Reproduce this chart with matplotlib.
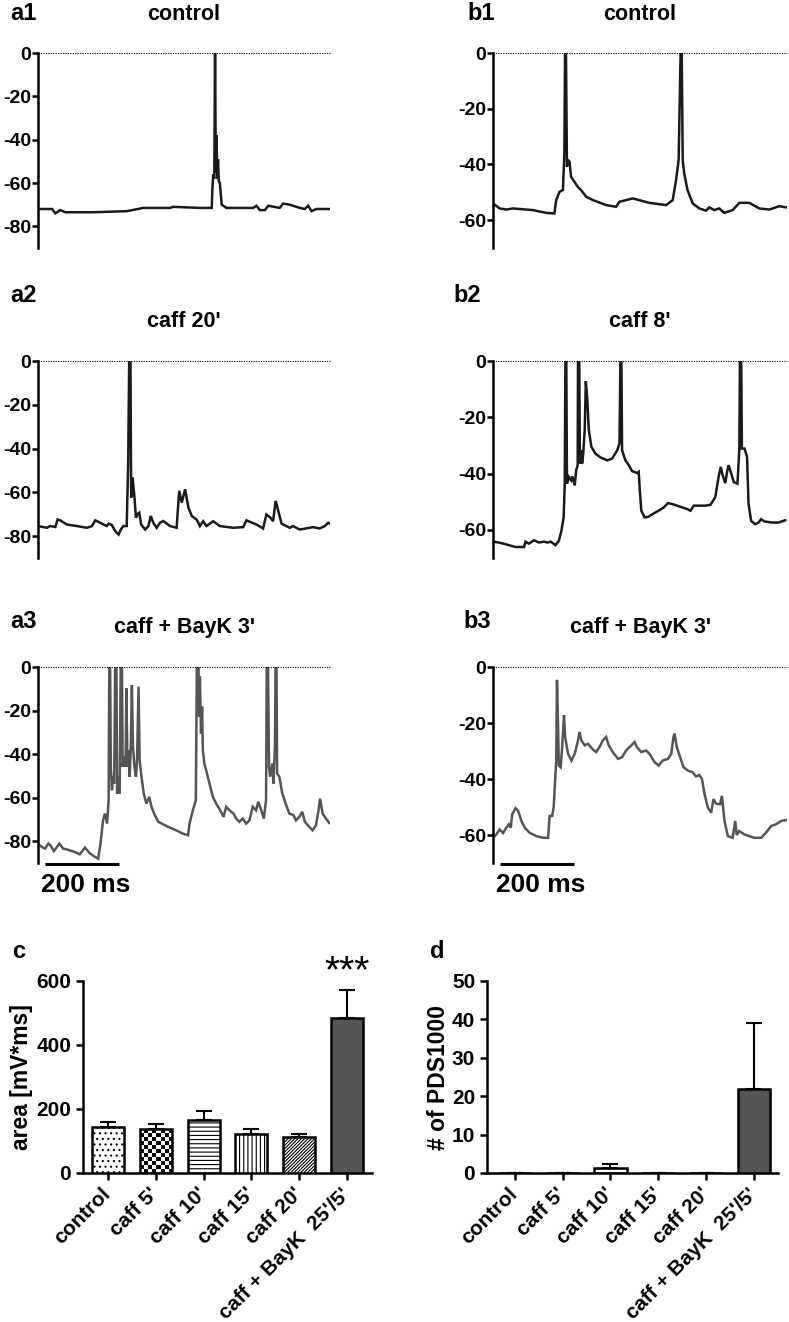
import matplotlib.pyplot as plt
import numpy as np

plt.rcParams['font.family'] = ['Liberation Sans', 'DejaVu Sans']
plt.rcParams['font.weight'] = 'bold'
plt.rcParams['axes.labelweight'] = 'bold'
plt.rcParams['axes.unicode_minus'] = False
plt.rcParams['hatch.linewidth'] = 0.8

# ---- membrane potential traces (time in ms, potential in mV) ----
a1_t = [0, 38, 47, 60, 74, 150, 240, 285, 357, 366, 438, 470, 472, 474, 477, 479, 481, 483, 485, 487,
        489, 492, 497, 510, 582, 591, 600, 614, 623, 654, 663, 681, 708, 722, 731, 740, 753, 789]
a1_v = [-72, -72, -74, -72.5, -73.5, -73.5, -73, -71.5, -71.5, -71, -71.5, -71.5, -62, -56, -58, 5,
        -55, -38, -58, -49, -59, -60, -70, -71.5, -71.5, -70.5, -72.5, -72.5, -70.5, -71.5, -69.5,
        -70, -71.5, -72, -70.5, -73, -72, -72]

a2_t = [0, 24, 33, 47, 53, 60, 78, 105, 132, 146, 155, 168, 186, 191, 200, 209, 218, 224, 231, 240,
        244, 247, 250, 252, 256, 261, 265, 270, 274, 279, 290, 299, 305, 312, 321, 330, 339, 357,
        375, 382, 389, 398, 407, 416, 429, 438, 447, 456, 474, 492, 528, 555, 564, 591, 609, 618,
        629, 636, 643, 650, 659, 681, 690, 708, 744, 762, 776, 785, 791]
a2_v = [-75.4, -76.2, -75.4, -75.8, -72.4, -72.8, -74.7, -75.4, -76.2, -75.4, -72.8, -73.9, -75.4,
        -74.3, -75, -77.7, -79.3, -77, -75.4, -75.4, -46.3, 5, 5, -62.4, -53.2, -62.4, -71.6, -69.8,
        -69.3, -74.7, -77, -75.4, -70.8, -73.9, -76.2, -73.9, -73.1, -75.4, -76.2, -59.3, -64.7,
        -58.6, -67, -70.8, -72.4, -75.4, -73.2, -75.4, -73.2, -75.4, -76.2, -75.9, -72.8, -74.7,
        -76.5, -70.1, -71.6, -73.2, -63.9, -68.5, -74.3, -76.2, -75.4, -77, -75.9, -76.5, -75.4,
        -73.9, -74.4]

a3_t = [0, 10, 19, 28, 34, 43, 58, 68, 79, 91, 100, 113, 127, 139, 154, 163, 169, 176, 181, 187,
        191, 193, 195, 197, 200, 203, 206, 209, 212, 214, 218, 221, 224, 227, 229, 233, 237, 239,
        242, 245, 248, 251, 254, 257, 261, 265, 268, 272, 275, 280, 286, 293, 301, 307, 316, 325,
        338, 356, 374, 392, 406, 410, 419, 427, 430, 434, 436, 438, 441, 444, 446, 450, 455, 464,
        473, 482, 493, 502, 509, 518, 529, 536, 545, 554, 563, 572, 581, 590, 596, 604, 611, 617,
        619, 622, 625, 628, 634, 637, 641, 643, 645, 647, 653, 661, 670, 680, 691, 698, 707, 715,
        722, 734, 743, 752, 759, 763, 770, 779, 788]
a3_v = [-81.1, -82.6, -83.4, -81.1, -82, -84.5, -81.1, -83.4, -83.8, -84.5, -85, -86, -82.9, -85.4,
        -87.2, -88, -81.1, -70.4, -67.3, -71.9, -61.2, 5, 5, -45.8, -56.6, -50.4, -53.5, 5, 5,
        -58.1, -50.4, -58.1, 5, 5, -45.8, -41.2, -45.8, -9.8, -45.8, -38.2, -50.4, -36.6, -8.3,
        -36.6, -45.8, -50.4, -42.8, -9, -42.8, -50.4, -58.1, -62.7, -59.6, -64.2, -68, -71, -72.2,
        -73.7, -75, -76.5, -77.3, -71.9, -65.8, -61.2, 5, 5, -22.8, -4.4, -30.5, -18.2, -38.2,
        -44.3, -47.4, -53.5, -59.6, -62.7, -65.8, -68.8, -64.2, -65.8, -67.3, -69.6, -71.1, -69.6,
        -71.9, -70.4, -64.2, -65.8, -61.9, -65.8, -69.6, -61.2, 5, 5, -45.8, -50.4, -44.3, -53.5,
        -36.6, 5, 5, -48.9, -50.4, -58.1, -62.7, -67.3, -68, -70.4, -68.8, -66.5, -71.1, -73.4,
        -75, -72.7, -65.8, -60.4, -67.3, -69.6, -71.6]

b1_t = [0, 18, 36, 54, 108, 144, 166, 171, 180, 189, 193, 195, 197, 200, 202, 207, 211, 220, 229,
        238, 252, 270, 306, 333, 342, 360, 378, 423, 468, 486, 495, 502, 508, 510, 513, 517, 526,
        540, 558, 576, 585, 598, 612, 625, 648, 666, 693, 720, 747, 774, 792]
b1_v = [-54, -55.8, -56.2, -55.8, -56.4, -57.4, -57.6, -52.8, -49.8, -49.2, -36, 5, 5, -40.8,
        -38.4, -39, -44.4, -46.2, -48, -49.2, -51.6, -52.8, -54.6, -55.2, -53.4, -52.8, -52.2,
        -53.8, -54.6, -52.8, -45.6, -38.4, 5, 5, -38.4, -43.2, -49.2, -54, -55.8, -56.6, -55.4,
        -56.4, -55.8, -57.4, -56.4, -53.8, -53.8, -55.8, -56.2, -55, -55.4]

b2_t = [0, 16, 34, 61, 84, 88, 97, 111, 124, 138, 147, 156, 169, 178, 185, 191, 194, 196, 198, 200,
        205, 211, 214, 221, 225, 229, 230, 233, 235, 239, 241, 244, 248, 251, 255, 259, 266, 277,
        291, 309, 322, 336, 342, 345, 347, 349, 358, 367, 376, 390, 394, 397, 401, 410, 421, 435,
        448, 462, 473, 484, 498, 511, 525, 534, 543, 556, 574, 588, 601, 610, 616, 621, 628, 633,
        637, 643, 651, 661, 666, 668, 671, 673, 680, 687, 691, 698, 709, 718, 725, 734, 754, 772, 790]
b2_v = [-64.2, -64.5, -65.1, -66.1, -66.1, -64.2, -64.9, -63.7, -64.5, -64.2, -64.5, -64.2, -65.4,
        -63.9, -60.3, -55.6, -43.6, 5, 5, -43.6, -41.2, -42.4, -41, -44.2, -38.8, -37, 5, 5, -36.4,
        -31.7, -36.4, -32.9, -24.5, -7.2, -13.7, -24.5, -30.5, -32.9, -34.3, -35.3, -34.7, -31.7,
        -29.3, 5, 5, -31.7, -35.3, -37, -39.1, -39.8, -39.4, -46, -53.2, -55.6, -55.3, -54.1, -53.2,
        -52, -50.5, -50.8, -51.4, -52, -52.6, -53.2, -51.4, -51.4, -51.4, -51.1, -48.4, -41.2,
        -37.6, -40.6, -43.4, -39.4, -37, -39.4, -43, -43.6, -31.7, 5, 5, -31.1, -31.1, -34.1,
        -50.8, -56.8, -58, -57.4, -56.2, -57, -57.4, -57.4, -56.6]

b3_t = [0, 9, 18, 27, 36, 43, 48, 52, 61, 68, 77, 86, 99, 117, 135, 149, 153, 160, 164, 167, 171,
        173, 176, 178, 183, 187, 192, 195, 203, 212, 221, 230, 234, 239, 248, 257, 268, 279, 288,
        297, 306, 313, 324, 338, 349, 360, 374, 383, 389, 401, 414, 423, 437, 448, 459, 473, 482,
        488, 491, 497, 506, 515, 527, 540, 549, 558, 565, 572, 581, 590, 596, 603, 614, 619, 626,
        635, 648, 655, 659, 666, 680, 693, 707, 725, 738, 752, 765, 779, 792]
b3_v = [-61, -59.8, -58, -59.3, -57.4, -56.2, -57.4, -52.6, -50.4, -51.4, -55, -57.4, -59.2, -60.4,
        -61, -61, -53.2, -53.2, -50.2, -43, -33.4, -4.6, -21.4, -35.2, -35.8, -28.6, -17.2, -25,
        -31, -33.4, -31, -26.2, -23.2, -26.2, -28, -27.4, -29.2, -30.4, -28.6, -26.2, -25, -28,
        -30.4, -32.8, -32.2, -29.8, -28, -26.8, -28.6, -30.4, -29.8, -31, -34, -35.2, -33.4, -32.8,
        -31, -25, -23.8, -28.6, -32.2, -35.8, -37, -37.6, -39.1, -38.6, -40, -45.4, -50.2, -52,
        -47.2, -48.8, -49, -46, -55, -60.4, -61, -55, -60, -58.6, -59.8, -60.4, -61, -61, -59.2,
        -56.8, -56.2, -55, -54.7]

# ---- summary bars ----
groups = ["control", "caff 5'", "caff 10'", "caff 15'", "caff 20'", "caff + BayK  25'/5'"]
area_mean = [143, 136, 166, 121, 112, 485]
area_sem = [15, 16, 28, 15, 11, 87]
pds_mean = [0, 0, 1.2, 0, 0, 22]
pds_sem = [0, 0, 1.1, 0, 0, 17]

W, H = 789, 1322
fig = plt.figure(figsize=(W / 100, H / 100), dpi=100)


def box(x0, y0, x1, y1):
    return [x0 / W, 1 - y1 / H, (x1 - x0) / W, (y1 - y0) / H]


def ftext(x, y, s, **kw):
    fig.text(x / W, 1 - y / H, s, **kw)


def trace(rect, t, v, ylo, ticks, color, tmax, scalebar=False):
    ax = fig.add_axes(rect)
    ax.plot(t, v, color=color, lw=1.8, solid_joinstyle='miter')
    ax.axhline(0, color='black', lw=0.8, ls=(0, (1, 1.2)), clip_on=False)
    ax.set_xlim(0, tmax)
    ax.set_ylim(ylo, 0)
    ax.set_yticks(ticks)
    ax.set_xticks([])
    for s in ['top', 'right', 'bottom']:
        ax.spines[s].set_visible(False)
    ax.spines['left'].set_linewidth(1.8)
    ax.tick_params(axis='y', direction='out', length=4, width=1.8, pad=1, labelsize=14)
    if scalebar:
        yb = ylo - 0.6 * (0 - ylo) / 90
        ax.plot([19, 219], [yb, yb], color='black', lw=2.2, clip_on=False, solid_capstyle='butt')
        ax.text(128, ylo - 10 * (0 - ylo) / 90, '200 ms', ha='center', va='center',
                fontsize=19, clip_on=False)
    return ax


trace(box(38, 53, 330, 248), a1_t, a1_v, -90, [0, -20, -40, -60, -80], '#1a1a1a', 790)
trace(box(38, 361, 330, 558), a2_t, a2_v, -90, [0, -20, -40, -60, -80], '#1a1a1a', 790)
trace(box(38, 667, 330, 863), a3_t, a3_v, -90, [0, -20, -40, -60, -80], '#555555', 790, True)
trace(box(493, 53, 787, 248), b1_t, b1_v, -70, [0, -20, -40, -60], '#1a1a1a', 795)
trace(box(493, 361, 787, 558), b2_t, b2_v, -70, [0, -20, -40, -60], '#1a1a1a', 795)
trace(box(493, 667, 787, 863), b3_t, b3_v, -70, [0, -20, -40, -60], '#555555', 795, True)

for lab, x, y in [('a1', 10, 14), ('a2', 10, 296), ('a3', 10, 622),
                  ('b1', 467, 14), ('b2', 453, 296), ('b3', 463, 622),
                  ('c', 12, 952), ('d', 430, 952)]:
    ftext(x, y, lab, fontsize=17, ha='left', va='center')
for tt, x, y in [('control', 184, 14), ("caff 20'", 184, 322), ("caff + BayK 3'", 184, 627),
                 ('control', 640, 14), ("caff 8'", 640, 322), ("caff + BayK 3'", 640, 627)]:
    ftext(x, y, tt, fontsize=15.5, ha='center', va='center')

hatches = ['...', None, '----', '||||', '//////////', None]
fills = ['white', 'none', 'white', 'white', 'white', '#555555']


def bars(rect, vals, errs, ymax, yticks, ylabel, xlim, label_x):
    ax = fig.add_axes(rect)
    x = np.arange(len(vals))
    ax.errorbar(x, vals, yerr=[np.zeros(len(vals)), errs], fmt='none', ecolor='black',
                elinewidth=1.5, capsize=6, capthick=1.5, zorder=1)
    bs = ax.bar(x, vals, width=0.67, color=fills, edgecolor='black', linewidth=1.8, zorder=3)
    for b, h in zip(bs, hatches):
        if h:
            b.set_hatch(h)
    # checkerboard fill for the caff 5' bar
    b = bs[1]
    if b.get_height() > 0:
        hpx = b.get_height() / ymax * rect[3] * H
        rows = max(1, int(round(hpx / 4)))
        pat = np.add.outer(np.arange(rows), np.arange(8)) % 2
        ax.imshow(pat, cmap='gray_r', extent=(b.get_x(), b.get_x() + b.get_width(), 0, b.get_height()),
                  origin='lower', aspect='auto', interpolation='nearest', zorder=2)
    ax.set_xlim(*xlim)
    ax.set_ylim(0, ymax)
    ax.set_yticks(yticks)
    ax.set_xticks(x)
    ax.set_xticklabels(groups, rotation=45, ha='right', va='center', rotation_mode='anchor', fontsize=15)
    for s in ['top', 'right']:
        ax.spines[s].set_visible(False)
    for s in ['left', 'bottom']:
        ax.spines[s].set_linewidth(1.8)
    ax.tick_params(direction='out', length=5, width=1.8, labelsize=15)
    ax.tick_params(axis='x', pad=8)
    ax.set_ylabel(ylabel, fontsize=16.5)
    ax.yaxis.set_label_coords(label_x, 0.5)
    return ax


axc = bars(box(83, 981, 372, 1173), area_mean, area_sem, 600, [0, 200, 400, 600], 'area [mV*ms]',
           (-0.52, 5.52), -0.173)
axc.text(5, 628, '***', ha='center', va='center', fontsize=28, fontweight='normal', clip_on=False)
axd = bars(box(487, 981, 778, 1173), pds_mean, pds_sem, 50, [0, 10, 20, 30, 40, 50], '# of PDS1000',
           (-0.58, 5.5), -0.127)

fig.savefig('out.png', dpi=100)
